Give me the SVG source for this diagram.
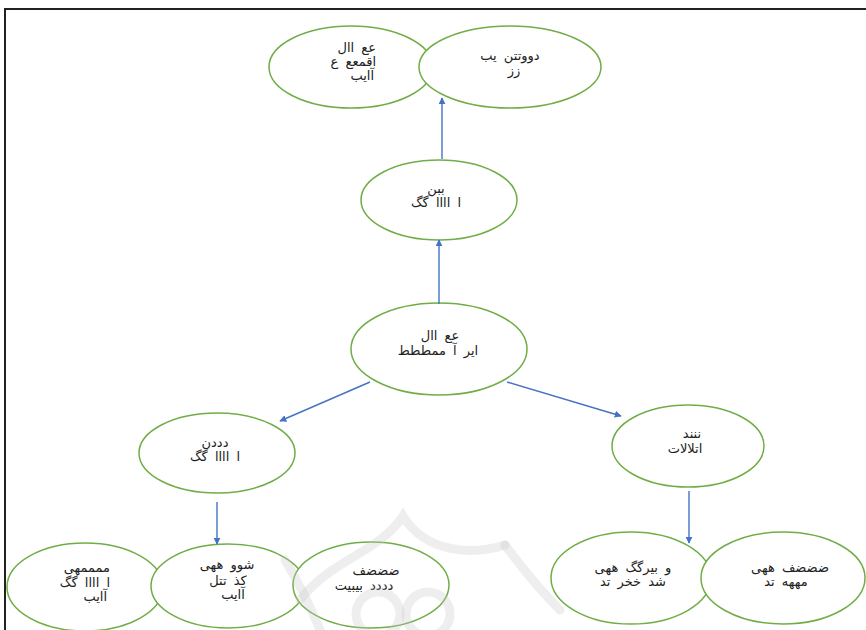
<svg xmlns="http://www.w3.org/2000/svg" width="866" height="630" viewBox="0 0 866 630">
<style>
.n{fill:#fff;stroke:#70AD47;stroke-width:1.5}
.t{font-family:"DejaVu Sans","Noto Sans",sans-serif;font-size:13px;word-spacing:3px;fill:#222;text-anchor:middle}
.r{text-anchor:end}
.c{stroke:#4472C4;stroke-width:1.4;fill:none;marker-end:url(#ah)}
.wm{fill:none;stroke:#c8c8c8;stroke-width:9;opacity:0.3;stroke-linecap:round}
</style>
<defs>
<marker id="ah" viewBox="0 0 10 10" refX="9" refY="5" markerWidth="7" markerHeight="7" orient="auto" markerUnits="userSpaceOnUse">
<path d="M0,0 L10,5 L0,10 z" fill="#4472C4"/>
</marker>
</defs>
<rect x="0" y="0" width="866" height="630" fill="#fff"/>
<path d="M5,630 V9 H866" fill="none" stroke="#222" stroke-width="2"/>

<g id="n-top-left"><ellipse class="n" cx="351" cy="67" rx="82" ry="41"/>
<text class="t r" x="376" y="52">عع اال</text><text class="t r" x="376" y="66">اقمعع ع</text><text class="t r" x="374" y="80">آایب</text></g>
<g id="n-top-right"><ellipse class="n" cx="510" cy="67" rx="91" ry="41"/>
<text class="t" x="510" y="60">دووتتن    یب</text><text class="t" x="514" y="75">زز</text></g>
<g id="n-mid-top"><ellipse class="n" cx="439" cy="200" rx="78" ry="40"/>
<text class="t" x="436" y="193">ببن</text><text class="t" x="436" y="207">ا اااا گگ</text></g>
<g id="n-center"><ellipse class="n" cx="439" cy="349" rx="88" ry="46"/>
<text class="t" x="440" y="340">عع اال</text><text class="t" x="438" y="355">ایر آ  ممططط</text></g>
<g id="n-left"><ellipse class="n" cx="217" cy="453" rx="78" ry="40"/>
<text class="t" x="215" y="447">دددن</text><text class="t" x="215" y="461">ا اااا گگ</text></g>
<g id="n-right"><ellipse class="n" cx="688" cy="446" rx="76" ry="41"/>
<text class="t" x="692" y="438">ننند</text><text class="t" x="685" y="453">اتلالات</text></g>
<g id="n-bl1"><ellipse class="n" cx="85" cy="587" rx="78" ry="44"/>
<text class="t r" x="110" y="572">ممممهی</text><text class="t r" x="110" y="587">ا اااا گگ</text><text class="t r" x="107" y="601">آایب</text></g>
<g id="n-bl2"><ellipse class="n" cx="228" cy="586" rx="77" ry="42"/>
<text class="t" x="227" y="569">شوو ههی</text><text class="t" x="228" y="585">کذ تتل</text><text class="t" x="233" y="599">آایب</text></g>
<g id="n-bl3"><ellipse class="n" cx="371" cy="585" rx="78" ry="43"/>
<text class="t" x="376" y="575">ضضضف</text><text class="t" x="364" y="590">دددد بیبیت</text></g>
<g id="n-br1"><ellipse class="n" cx="631" cy="578" rx="80" ry="46"/>
<text class="t" x="633" y="572">و بیرگگ ههی</text><text class="t" x="633" y="586">شد خخر تد</text></g>
<g id="n-br2"><ellipse class="n" cx="783" cy="578" rx="82" ry="46"/>
<text class="t" x="790" y="572">ضضضف ههی</text><text class="t" x="786" y="586">مههه تد</text></g>

<g id="watermark">
<path class="wm" d="M300,600 C330,560 380,552 403,516 C425,552 470,556 505,545"/>
<path class="wm" d="M505,545 C520,565 540,590 560,610"/>
<path class="wm" d="M285,560 C300,585 310,605 320,630"/>
<circle class="wm" cx="378" cy="614" r="22"/>
<circle class="wm" cx="428" cy="614" r="22"/>
</g>

<g id="connectors">
<line class="c" x1="439" y1="304" x2="439" y2="240"/>
<line class="c" x1="442" y1="159" x2="442" y2="98"/>
<line class="c" x1="370" y1="382" x2="280" y2="421"/>
<line class="c" x1="507" y1="382" x2="621" y2="416"/>
<line class="c" x1="217" y1="502" x2="217" y2="544"/>
<line class="c" x1="689" y1="491" x2="689" y2="543"/>
</g>
</svg>
